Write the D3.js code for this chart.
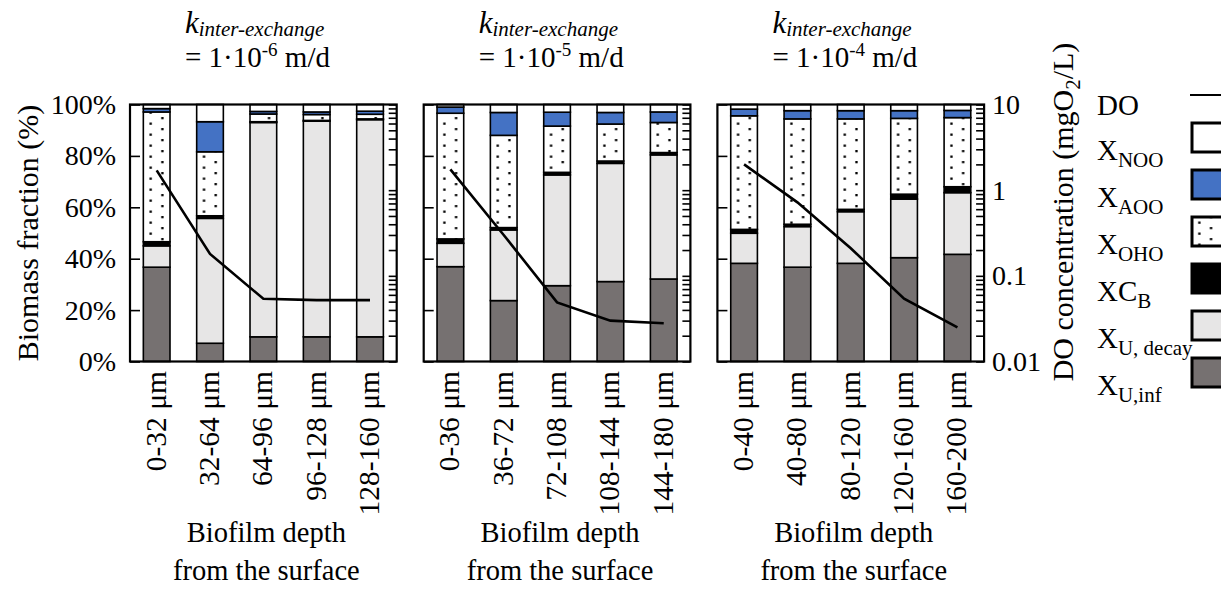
<!DOCTYPE html>
<html>
<head>
<meta charset="utf-8">
<script src="https://cdn.jsdelivr.net/npm/d3@7"></script>
<style>
  html, body { margin: 0; padding: 0; background: #fff; }
  svg { display: block; }
</style>
</head>
<body>
<svg id="chart" width="1221" height="592"></svg>
<script>
// ---- data -------------------------------------------------------------
const depthLabels = [
  ["0-32 μm", "32-64 μm", "64-96 μm", "96-128 μm", "128-160 μm"],
  ["0-36 μm", "36-72 μm", "72-108 μm", "108-144 μm", "144-180 μm"],
  ["0-40 μm", "40-80 μm", "80-120 μm", "120-160 μm", "160-200 μm"]
];
const kExponents = ["-6", "-5", "-4"];

// biomass fractions (%) per panel, bottom to top of each stack
const xUinf   = [[36.7, 7.1, 9.6, 9.6, 9.6],     [36.9, 23.7, 29.5, 31.1, 32.1], [38.2, 36.7, 38.2, 40.4, 41.7]];
const xUdecay = [[8.3, 48.6, 83.4, 83.9, 84.5],  [9.1, 27.5, 43.1, 46.0, 48.3],  [11.7, 15.8, 20.1, 22.8, 24.0]];
const xCB     = [[1.6, 1.0, 0.3, 0.3, 0.3],      [1.7, 0.9, 1.0, 0.9, 0.9],      [1.5, 0.9, 0.9, 1.9, 2.3]];
const xOHO    = [[50.5, 24.9, 3.0, 2.3, 1.8],    [48.9, 35.9, 18.0, 14.4, 11.7], [44.2, 41.0, 35.2, 29.5, 26.9]];
const xAOO    = [[1.3, 11.7, 1.0, 1.0, 1.2],     [2.4, 8.9, 5.4, 4.5, 4.1],      [2.6, 3.2, 3.2, 3.0, 2.8]];
const xNOO    = [[1.6, 6.7, 2.7, 2.9, 2.6],      [1.0, 3.1, 3.0, 3.1, 2.9],      [1.8, 2.4, 2.4, 2.4, 2.3]];

// dissolved oxygen (mgO2/L) in each depth layer
const doConc  = [[1.7, 0.18, 0.054, 0.052, 0.052], [1.75, 0.30, 0.049, 0.030, 0.028], [2.0, 0.72, 0.21, 0.054, 0.025]];

const pctTicks = [0, 20, 40, 60, 80, 100];
const doLabelTicks = [0.01, 0.1, 1, 10];

// ---- layout ------------------------------------------------------------
const FONT = '"Liberation Serif", "Times New Roman", Times, serif';
const svg = d3.select("#chart").attr("font-family", FONT);
svg.append("rect").attr("width", 1221).attr("height", 592).attr("fill", "#fff");

const panelLeft0 = 130, panelW = 266.7, panelGap = 27;
const yTop = 104.5, yBot = 361.5;

const yPct = d3.scaleLinear().domain([0, 100]).range([yBot, yTop]);
const yDO = d3.scaleLog().domain([0.01, 10]).range([yBot, yTop]);

const keys = ["inf", "decay", "cb", "oho", "aoo", "noo"];
const fills = { inf: "#767171", decay: "#e7e6e6", cb: "#000", oho: "url(#dots)", aoo: "#4472c4", noo: "#fff" };

// sparse dotted fill
const defs = svg.append("defs");
const pat = defs.append("pattern").attr("id", "dots")
  .attr("patternUnits", "userSpaceOnUse").attr("width", 23.4).attr("height", 11);
pat.append("rect").attr("width", 23.4).attr("height", 11).attr("fill", "#fff");
pat.append("rect").attr("x", 6.2).attr("y", 1.5).attr("width", 2.3).attr("height", 2.3).attr("fill", "#000");
pat.append("rect").attr("x", 17.9).attr("y", 7).attr("width", 2.3).attr("height", 2.3).attr("fill", "#000");

depthLabels.forEach((labels, pi) => {
  const left = panelLeft0 + pi * (panelW + panelGap);
  const g = svg.append("g");

  const rows = labels.map((d, i) => ({
    depth: d,
    inf: xUinf[pi][i], decay: xUdecay[pi][i], cb: xCB[pi][i],
    oho: xOHO[pi][i], aoo: xAOO[pi][i], noo: xNOO[pi][i],
    DO: doConc[pi][i]
  }));
  const series = d3.stack().keys(keys)(rows);

  const x = d3.scaleBand().domain(labels).range([left, left + panelW])
    .paddingInner(0.5).paddingOuter(0.25);

  // stacked bars
  const bars = g.selectAll("g.bar").data(rows).join("g").attr("class", "bar")
    .attr("transform", d => `translate(${x(d.depth)},0)`);
  bars.selectAll("rect")
    .data((d, i) => series.map(s => ({ key: s.key, y0: s[i][0], y1: s[i][1] })))
    .join("rect")
    .attr("x", 0).attr("width", x.bandwidth())
    .attr("y", d => yPct(d.y1)).attr("height", d => yPct(d.y0) - yPct(d.y1))
    .attr("fill", d => fills[d.key]).attr("stroke", "#000").attr("stroke-width", 1.6);

  // left percentage axis, ticks pointing inward
  const axL = g.append("g").attr("transform", `translate(${left},0)`)
    .call(d3.axisLeft(yPct).tickValues(pctTicks).tickSize(-10).tickPadding(14)
      .tickFormat(pi === 0 ? d => d + "%" : () => ""));
  axL.select(".domain").remove();
  axL.attr("font-family", FONT).attr("font-size", 28);
  axL.selectAll("line").attr("stroke-width", 1.6);
  axL.selectAll("text").attr("fill", "#000");

  // right log axis for DO
  const axR = g.append("g").attr("transform", `translate(${left + panelW},0)`)
    .call(d3.axisRight(yDO).tickValues(yDO.ticks()).tickSize(-8).tickPadding(8)
      .tickFormat(d => (pi === 2 && doLabelTicks.some(v => Math.abs(v - d) < 1e-9)) ? String(d) : ""));
  axR.select(".domain").remove();
  axR.attr("font-family", FONT).attr("font-size", 28);
  axR.selectAll("line").attr("stroke-width", 1.6);
  axR.selectAll("text").attr("fill", "#000");

  // frame
  g.append("rect").attr("x", left).attr("y", yTop).attr("width", panelW).attr("height", yBot - yTop)
    .attr("fill", "none").attr("stroke", "#000").attr("stroke-width", 2.2);

  // DO profile
  const line = d3.line().x(d => x(d.depth) + x.bandwidth() / 2).y(d => yDO(d.DO));
  g.append("path").datum(rows).attr("d", line)
    .attr("fill", "none").attr("stroke", "#000").attr("stroke-width", 2.6);

  // rotated depth labels
  g.selectAll("text.depth").data(labels).join("text").attr("class", "depth")
    .attr("transform", d => `translate(${x(d) + x.bandwidth() / 2 + 9},371) rotate(-90)`)
    .attr("text-anchor", "end").attr("font-size", 29.5).text(d => d);

  // x-axis caption
  const cx = left + panelW / 2 + 3;
  g.append("text").attr("x", cx).attr("y", 542).attr("text-anchor", "middle")
    .attr("font-size", 28.5).text("Biofilm depth");
  g.append("text").attr("x", cx).attr("y", 580).attr("text-anchor", "middle")
    .attr("font-size", 28.5).text("from the surface");

  // panel title
  const tx = left + 55;
  const t1 = g.append("text").attr("x", tx).attr("y", 33).attr("font-style", "italic");
  t1.append("tspan").attr("font-size", 31).text("k");
  t1.append("tspan").attr("font-size", 21).attr("dy", 2.5).text("inter-exchange");
  const t2 = g.append("text").attr("x", tx).attr("y", 67).attr("font-size", 29);
  t2.append("tspan").text("= 1·10");
  t2.append("tspan").attr("font-size", 19).attr("dy", -11).text(kExponents[pi]);
  t2.append("tspan").attr("dy", 11).text(" m/d");
});

// axis titles
svg.append("text").attr("transform", `translate(38,233) rotate(-90)`)
  .attr("text-anchor", "middle").attr("font-size", 30).text("Biomass fraction (%)");
const rt = svg.append("text").attr("transform", `translate(1073,212) rotate(-90)`)
  .attr("text-anchor", "middle").attr("font-size", 30);
rt.append("tspan").text("DO concentration (mgO");
rt.append("tspan").attr("font-size", 21).attr("dy", 7).text("2");
rt.append("tspan").attr("dy", -7).text("/L)");

// legend
const legendItems = [
  { key: "do", main: "DO", sub: "" },
  { key: "noo", main: "X", sub: "NOO" },
  { key: "aoo", main: "X", sub: "AOO" },
  { key: "oho", main: "X", sub: "OHO" },
  { key: "cb", main: "XC", sub: "B" },
  { key: "decay", main: "X", sub: "U, decay" },
  { key: "inf", main: "X", sub: "U,inf" }
];
const lg = svg.append("g");
legendItems.forEach((it, i) => {
  const base = i === 0 ? 115 : 160 + (i - 1) * 47;
  const t = lg.append("text").attr("x", 1097).attr("y", base).attr("font-size", 29);
  t.append("tspan").text(it.main);
  if (it.sub) t.append("tspan").attr("font-size", 21).attr("dy", 7).text(it.sub);
  if (it.key === "do") {
    lg.append("line").attr("x1", 1190).attr("x2", 1230).attr("y1", base - 20).attr("y2", base - 20)
      .attr("stroke", "#000").attr("stroke-width", 2);
  } else {
    lg.append("g").attr("transform", `translate(1192,0)`)
      .append("rect").attr("x", 0).attr("y", base - 37).attr("width", 50).attr("height", 29)
      .attr("fill", fills[it.key]).attr("stroke", "#000").attr("stroke-width", 3);
  }
});
</script>
</body>
</html>
